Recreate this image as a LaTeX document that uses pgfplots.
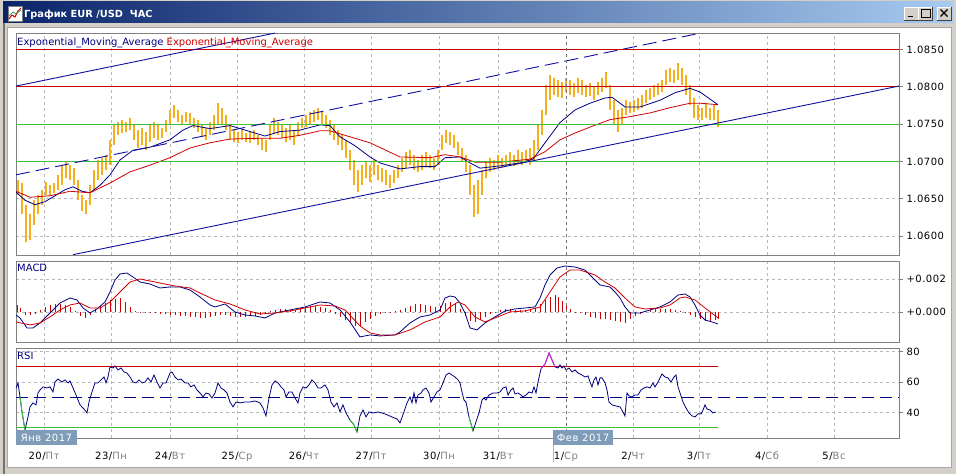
\documentclass[border=0pt]{standalone}
\usepackage{pgfplots}
\pgfplotsset{compat=1.18}
\usepackage{fontspec}
\setmainfont{DejaVu Sans}
\newfontfamily\tickfont[LetterSpace=5]{DejaVu Sans}
\definecolor{winbg}{HTML}{D4D0C8}
\definecolor{tbL}{HTML}{0A246A}
\definecolor{tbR}{HTML}{A6CAF0}
\definecolor{candle}{HTML}{F5AE1E}
\definecolor{navyline}{HTML}{000080}
\definecolor{emared}{HTML}{D00000}
\definecolor{hred}{HTML}{CC0000}
\definecolor{hgreen}{HTML}{3CC03C}
\definecolor{trendblue}{HTML}{1010A0}
\definecolor{gridgray}{HTML}{B8B8B8}
\definecolor{framegray}{HTML}{808080}
\definecolor{daygray}{HTML}{808080}
\definecolor{monthbox}{HTML}{7F9DB9}
\definecolor{rsimag}{HTML}{E020E0}
\pgfplotsset{panel/.style={
  scale only axis, width=883pt, xmin=16, xmax=899, anchor=south west,
  axis line style={draw=framegray, line width=0.8pt},
  xtick={44,111,170,237,304,371,439,498,566,633,699,767,834},
  xticklabels={},
  xmajorgrids, ymajorgrids,
  major grid style={draw=gridgray, dash pattern=on 3pt off 3pt, line width=0.6pt},
  xtick style={draw=none},
  ytick pos=right, yticklabel pos=right,
  ytick style={draw=framegray, line width=0.6pt},
  tick align=outside, major tick length=4pt,
  yticklabel style={font=\fontsize{10}{12}\tickfont, text=black, anchor=west},
  scaled y ticks=false,
}}
\begin{document}
\begin{tikzpicture}[x=1pt,y=1pt]
\useasboundingbox (0,0) rectangle (956,474);
\fill[winbg] (0,0) rectangle (956,474);
% title bar
\shade[left color=tbL, right color=tbR] (3,451) rectangle (953,472);
\fill[white] (8,453) rectangle (22,468);
\draw[framegray,line width=0.6pt] (8,453) rectangle (22,468);
\draw[hred,line width=1pt] (9,455) -- (12,459) -- (15,457) -- (18,463) -- (21,466);
\draw[hgreen!70!black,line width=0.7pt] (9,458) -- (13,462) -- (16,460) -- (21,464);
\node[anchor=base west, inner sep=0, text=white, font=\fontsize{9.8}{12}\selectfont\bfseries] at (24,456) {График EUR /USD\ \ ЧАС};
% buttons
\foreach \bx in {904,918,937}{
  \fill[winbg] (\bx,454) rectangle (\bx+14,467);
  \draw[white,line width=0.7pt] (\bx,454) -- (\bx,467) -- (\bx+14,467);
  \draw[black!75,line width=0.7pt] (\bx,454) -- (\bx+14,454) -- (\bx+14,467);
}
\draw[black,line width=1.6pt] (907.5,457.5) -- (913,457.5);
\draw[black,line width=0.7pt] (921,457) rectangle (930,465);
\draw[black,line width=1.6pt] (921,464.5) -- (930,464.5);
\draw[black,line width=1.3pt] (940.5,457.5) -- (947.5,464.5) (940.5,464.5) -- (947.5,457.5);
% chart area
\fill[black!55] (3,0) rectangle (5,451);
\fill[white] (7,7) rectangle (951,447);
\draw[black!35,line width=0.6pt] (7,7) rectangle (951,447);

% ================= MAIN PRICE PANEL =================
\begin{axis}[panel, at={(16pt,219pt)}, height=222pt, ymin=1.05746, ymax=1.08721,
  ytick={1.06,1.065,1.07,1.075,1.08,1.085},
  yticklabels={1.0600,1.0650,1.0700,1.0750,1.0800,1.0850}]
\addplot[draw=none, mark=none, forget plot,
  error bars/.cd, y dir=plus, y explicit, error mark=none,
  error bar style={draw=candle, line width=2.2pt}]
  table[x=x, y=l, y error plus expr=\thisrow{h}-\thisrow{l}] {
x l h
18 1.0655 1.0675
22 1.0629 1.0671
26 1.0592 1.0642
30 1.0595 1.0629
34 1.0615 1.0648
38 1.0629 1.0655
42 1.0642 1.0662
46 1.0655 1.0672
50 1.0655 1.0668
54 1.0658 1.0671
58 1.0662 1.0682
62 1.0668 1.0695
66 1.0678 1.0699
70 1.0675 1.0695
74 1.0668 1.0691
78 1.0648 1.0675
82 1.0633 1.0655
86 1.0629 1.0648
90 1.0642 1.0668
94 1.0662 1.0689
98 1.0675 1.0702
102 1.0682 1.0705
106 1.0689 1.0709
110 1.0695 1.0729
114 1.0722 1.0749
118 1.0735 1.0753
122 1.0738 1.0756
126 1.0740 1.0753
130 1.0742 1.0758
134 1.0729 1.0749
138 1.0718 1.0742
142 1.0722 1.0745
146 1.0715 1.0740
150 1.0726 1.0749
154 1.0731 1.0753
158 1.0729 1.0749
162 1.0731 1.0745
166 1.0740 1.0756
170 1.0749 1.0769
174 1.0758 1.0776
178 1.0753 1.0769
182 1.0749 1.0762
186 1.0753 1.0766
190 1.0749 1.0765
194 1.0745 1.0758
198 1.0740 1.0756
202 1.0733 1.0749
206 1.0729 1.0745
210 1.0735 1.0753
214 1.0742 1.0762
218 1.0749 1.0778
222 1.0749 1.0772
226 1.0742 1.0762
230 1.0729 1.0749
234 1.0726 1.0742
238 1.0725 1.0740
242 1.0729 1.0742
246 1.0726 1.0738
250 1.0725 1.0740
254 1.0729 1.0742
258 1.0722 1.0735
262 1.0715 1.0731
266 1.0713 1.0729
270 1.0729 1.0749
274 1.0738 1.0758
278 1.0735 1.0753
282 1.0731 1.0749
286 1.0726 1.0745
290 1.0729 1.0749
294 1.0722 1.0742
298 1.0735 1.0753
302 1.0745 1.0758
306 1.0746 1.0762
310 1.0749 1.0766
314 1.0753 1.0769
318 1.0756 1.0772
322 1.0749 1.0766
326 1.0745 1.0762
330 1.0735 1.0756
334 1.0729 1.0749
338 1.0722 1.0742
342 1.0715 1.0735
346 1.0705 1.0729
350 1.0689 1.0715
354 1.0668 1.0702
358 1.0659 1.0689
362 1.0668 1.0695
366 1.0678 1.0699
370 1.0672 1.0695
374 1.0682 1.0702
378 1.0675 1.0695
382 1.0672 1.0691
386 1.0668 1.0689
390 1.0664 1.0682
394 1.0671 1.0689
398 1.0678 1.0695
402 1.0686 1.0705
406 1.0691 1.0713
410 1.0695 1.0715
414 1.0689 1.0709
418 1.0686 1.0702
422 1.0689 1.0709
426 1.0694 1.0713
430 1.0691 1.0709
434 1.0689 1.0705
438 1.0695 1.0715
442 1.0715 1.0735
446 1.0725 1.0742
450 1.0722 1.0740
454 1.0718 1.0735
458 1.0709 1.0726
462 1.0699 1.0718
466 1.0686 1.0709
470 1.0655 1.0695
474 1.0625 1.0668
478 1.0629 1.0675
482 1.0655 1.0689
486 1.0678 1.0699
490 1.0686 1.0705
494 1.0689 1.0702
498 1.0691 1.0709
502 1.0691 1.0705
506 1.0694 1.0709
510 1.0695 1.0713
514 1.0694 1.0709
518 1.0698 1.0715
522 1.0695 1.0713
526 1.0699 1.0715
530 1.0695 1.0718
534 1.0702 1.0729
538 1.0715 1.0749
542 1.0735 1.0769
546 1.0762 1.0802
550 1.0782 1.0816
554 1.0789 1.0812
558 1.0786 1.0809
562 1.0785 1.0806
566 1.0793 1.0812
570 1.0789 1.0809
574 1.0786 1.0805
578 1.0792 1.0812
582 1.0789 1.0809
586 1.0786 1.0802
590 1.0788 1.0805
594 1.0782 1.0801
598 1.0789 1.0806
602 1.0793 1.0812
606 1.0798 1.0820
610 1.0769 1.0802
614 1.0749 1.0782
618 1.0740 1.0769
622 1.0749 1.0772
626 1.0762 1.0782
630 1.0765 1.0780
634 1.0766 1.0782
638 1.0769 1.0785
642 1.0772 1.0789
646 1.0778 1.0796
650 1.0782 1.0798
654 1.0786 1.0802
658 1.0789 1.0805
662 1.0793 1.0809
666 1.0802 1.0822
670 1.0806 1.0825
674 1.0805 1.0822
678 1.0809 1.0832
682 1.0802 1.0825
686 1.0789 1.0816
690 1.0776 1.0802
694 1.0758 1.0785
698 1.0756 1.0776
702 1.0756 1.0772
706 1.0758 1.0778
710 1.0756 1.0772
714 1.0756 1.0776
718 1.0746 1.0769
};
% EMA fast (blue)
\addplot[navyline, line width=0.8pt, mark=none] coordinates {
(16,1.0659)(25,1.0648)(35,1.0642)(45,1.0646)(55,1.0654)(65,1.0662)(73,1.0666)(82,1.0660)(90,1.0658)(100,1.0668)(110,1.0682)(120,1.0702)(133,1.0715)(150,1.0719)(170,1.0729)(183,1.0742)(193,1.0748)(210,1.0744)(230,1.0748)(245,1.0742)(265,1.0734)(280,1.0740)(300,1.0742)(320,1.0749)(330,1.0748)(340,1.0733)(355,1.0721)(370,1.0706)(380,1.0698)(400,1.0690)(420,1.0693)(435,1.0693)(445,1.0705)(460,1.0706)(470,1.0698)(480,1.0691)(500,1.0694)(520,1.0698)(533,1.0703)(545,1.0725)(560,1.0752)(575,1.0769)(590,1.0778)(605,1.0785)(612,1.0786)(625,1.0773)(640,1.0773)(660,1.0782)(675,1.0792)(690,1.0798)(700,1.0793)(718,1.0776)};
% EMA slow (red)
\addplot[emared, line width=0.8pt, mark=none] coordinates {
(16,1.0660)(30,1.0652)(50,1.0654)(70,1.0660)(90,1.0658)(110,1.0671)(130,1.0686)(150,1.0695)(170,1.0705)(190,1.0718)(210,1.0725)(230,1.0730)(260,1.0731)(280,1.0731)(300,1.0735)(320,1.0741)(330,1.0741)(350,1.0733)(370,1.0725)(400,1.0706)(430,1.0705)(445,1.0709)(460,1.0706)(475,1.0699)(500,1.0699)(530,1.0703)(545,1.0713)(560,1.0729)(575,1.0738)(590,1.0746)(610,1.0756)(630,1.0760)(650,1.0765)(670,1.0772)(690,1.0778)(700,1.0778)(718,1.0776)};
% horizontal levels
\addplot[hred, line width=0.9pt] coordinates {(16,1.0850)(899,1.0850)};
\addplot[hred, line width=0.9pt] coordinates {(16,1.0800)(899,1.0800)};
\addplot[hgreen, line width=0.9pt] coordinates {(16,1.0750)(899,1.0750)};
\addplot[hgreen, line width=0.9pt] coordinates {(16,1.0700)(899,1.0700)};
% trend channel
\addplot[trendblue, line width=0.9pt] coordinates {(16,1.0801)(275,1.0872)};
\addplot[trendblue, line width=0.9pt, dash pattern=on 14pt off 6pt] coordinates {(16,1.0682)(697,1.0871)};
\addplot[trendblue, line width=0.9pt] coordinates {(73,1.0575)(899,1.0801)};
\draw[black!55, dash pattern=on 3pt off 3pt, line width=0.7pt] (axis cs:566,1.05746) -- (axis cs:566,1.08721);
\end{axis}
\node[anchor=base west, inner sep=0, font=\fontsize{10}{12}\selectfont] at (17,428.5)
  {\textcolor{navyline}{Exponential\_Moving\_Average} \textcolor{emared}{Exponential\_Moving\_Average}};

% ================= MACD PANEL =================
\begin{axis}[panel, at={(16pt,132pt)}, height=81pt, ymin=-0.001784, ymax=0.003081,
  ytick={0,0.002}, yticklabels={+0.000,+0.002}]
\addplot[ycomb, emared, line width=0.8pt, mark=none] coordinates {
(17,0.00042)(20,0.00024)(25,-0.00018)(30,-0.00018)(35,-0.00012)(40,0.00012)(45,0.00030)(50,0.00042)(55,0.00048)(60,0.00048)(65,0.00042)(70,0.00030)(75,0.00006)(80,-0.00024)(85,-0.00036)(90,-0.00018)(95,0.00018)(100,0.00036)(105,0.00054)(110,0.00072)(115,0.00078)(120,0.00084)(125,0.00060)(130,0.00030)(135,0.00006)(140,0.00002)(145,0.00002)(150,-0.00006)(155,-0.00006)(160,-0.00012)(165,-0.00012)(170,-0.00018)(175,-0.00018)(180,-0.00024)(185,-0.00024)(190,-0.00030)(195,-0.00030)(200,-0.00036)(205,-0.00036)(210,-0.00030)(215,-0.00024)(220,-0.00018)(225,-0.00018)(230,-0.00024)(235,-0.00030)(240,-0.00030)(245,-0.00030)(250,-0.00024)(255,-0.00024)(260,-0.00018)(265,-0.00012)(270,0.00006)(275,0.00012)(280,0.00018)(285,0.00018)(290,0.00012)(295,0.00012)(300,0.00024)(305,0.00030)(310,0.00036)(315,0.00036)(320,0.00030)(325,0.00024)(330,0.00012)(335,-0.00012)(340,-0.00030)(345,-0.00048)(350,-0.00066)(355,-0.00084)(360,-0.00084)(365,-0.00060)(370,-0.00042)(375,-0.00024)(380,-0.00012)(385,0.00002)(390,0.00002)(395,0.00006)(400,0.00012)(405,0.00024)(410,0.00036)(415,0.00048)(420,0.00048)(425,0.00042)(430,0.00036)(435,0.00030)(440,0.00036)(445,0.00054)(450,0.00060)(455,0.00054)(460,0.00018)(465,-0.00024)(470,-0.00054)(475,-0.00060)(480,-0.00048)(485,-0.00030)(490,-0.00012)(495,0.00002)(500,0.00012)(505,0.00018)(510,0.00018)(515,0.00012)(520,0.00012)(525,0.00012)(530,0.00018)(535,0.00024)(540,0.00048)(545,0.00072)(550,0.00090)(555,0.00102)(558,0.00090)(562,0.00066)(566,0.00042)(570,0.00018)(575,0.00002)(580,-0.00006)(585,-0.00018)(590,-0.00030)(595,-0.00036)(600,-0.00042)(605,-0.00042)(610,-0.00048)(615,-0.00054)(620,-0.00060)(625,-0.00066)(630,-0.00042)(635,-0.00024)(640,-0.00012)(645,0.00006)(650,0.00012)(655,0.00018)(660,0.00018)(665,0.00018)(670,0.00018)(675,0.00012)(680,0.00006)(685,-0.00006)(690,-0.00018)(695,-0.00030)(700,-0.00042)(705,-0.00054)(710,-0.00054)(715,-0.00048)(718,-0.00042)};
\addplot[navyline, line width=0.8pt, mark=none] coordinates {
(16,-0.00016)(20,-0.00034)(27,-0.00094)(33,-0.00094)(40,-0.00064)(50,-0.00004)(60,0.00056)(70,0.00086)(77,0.00074)(83,0.00026)(90,-0.00004)(97,0.00020)(105,0.00062)(110,0.00122)(115,0.00194)(120,0.00230)(127,0.00236)(133,0.00212)(140,0.00182)(150,0.00170)(160,0.00146)(170,0.00152)(180,0.00152)(190,0.00134)(200,0.00092)(210,0.00044)(215,0.00032)(225,0.00050)(235,0.00002)(245,-0.00016)(255,-0.00022)(265,-0.00034)(275,-0.00004)(290,0.00014)(305,0.00032)(320,0.00062)(330,0.00056)(340,0.00014)(350,-0.00058)(360,-0.00148)(370,-0.00136)(380,-0.00142)(395,-0.00136)(400,-0.00118)(410,-0.00064)(420,-0.00028)(430,-0.00016)(440,0.00014)(445,0.00086)(450,0.00098)(455,0.00092)(460,0.00056)(465,-0.00004)(470,-0.00094)(477,-0.00106)(485,-0.00064)(495,-0.00028)(505,0.00008)(515,0.00020)(525,0.00026)(535,0.00032)(540,0.00086)(545,0.00164)(550,0.00224)(557,0.00266)(565,0.00278)(575,0.00272)(585,0.00254)(595,0.00194)(600,0.00164)(610,0.00152)(615,0.00122)(620,0.00086)(625,0.00032)(630,-0.00004)(640,-0.00004)(650,0.00014)(660,0.00032)(670,0.00062)(678,0.00104)(685,0.00110)(690,0.00092)(695,0.00044)(700,-0.00016)(705,-0.00046)(712,-0.00058)(718,-0.00070)};
\addplot[emared, line width=0.8pt, mark=none] coordinates {
(16,-0.00058)(30,-0.00076)(40,-0.00064)(50,-0.00028)(60,0.00014)(70,0.00044)(80,0.00056)(90,0.00026)(100,0.00026)(110,0.00062)(120,0.00122)(130,0.00182)(140,0.00200)(150,0.00188)(160,0.00176)(175,0.00158)(190,0.00146)(200,0.00116)(215,0.00074)(230,0.00050)(245,0.00014)(260,-0.00010)(275,-0.00004)(290,0.00008)(305,0.00026)(320,0.00044)(335,0.00038)(345,0.00014)(360,-0.00082)(370,-0.00124)(380,-0.00136)(395,-0.00136)(410,-0.00106)(425,-0.00058)(440,-0.00028)(450,0.00032)(458,0.00062)(465,0.00044)(475,-0.00028)(485,-0.00058)(495,-0.00034)(510,0.00002)(525,0.00008)(540,0.00032)(550,0.00122)(560,0.00212)(570,0.00254)(580,0.00254)(595,0.00224)(605,0.00182)(615,0.00146)(625,0.00086)(635,0.00032)(645,0.00020)(660,0.00026)(670,0.00044)(680,0.00086)(685,0.00092)(695,0.00074)(705,0.00026)(718,-0.00034)};
\draw[black!55, dash pattern=on 3pt off 3pt, line width=0.7pt] (axis cs:566,-0.001784) -- (axis cs:566,0.003081);
\end{axis}
\node[anchor=base west, inner sep=0, font=\fontsize{10}{12}\selectfont, text=navyline] at (17,202) {MACD};

% ================= RSI PANEL =================
\begin{axis}[panel, at={(16pt,36pt)}, height=90pt, ymin=23.4, ymax=82.4,
  ytick={40,60,80}, yticklabels={40,60,80},
  xticklabels={20/\textcolor{daygray}{Пт},23/\textcolor{daygray}{Пн},24/\textcolor{daygray}{Вт},25/\textcolor{daygray}{Ср},26/\textcolor{daygray}{Чт},27/\textcolor{daygray}{Пт},30/\textcolor{daygray}{Пн},31/\textcolor{daygray}{Вт},1/\textcolor{daygray}{Ср},2/\textcolor{daygray}{Чт},3/\textcolor{daygray}{Пт},4/\textcolor{daygray}{Сб},5/\textcolor{daygray}{Вс}},
  xticklabel style={font=\fontsize{10}{12}\tickfont, text=black, anchor=base, yshift=-17pt}]
\addplot[hred, line width=0.9pt] coordinates {(16,70)(718,70)};
\addplot[hgreen, line width=0.9pt] coordinates {(16,30)(718,30)};
\addplot[navyline, line width=0.9pt, dash pattern=on 12pt off 6pt] coordinates {(16,50)(899,50)};
\addplot[navyline, line width=0.8pt, mark=none] coordinates {
(16,56.2)(18,59.5)(20,50.3)(22,40.5)(25,28.7)(28,37.2)(30,43.8)(33,46.4)(36,45.1)(38,52.9)(40,54.9)(43,56.9)(47,56.2)(50,56.9)(53,53.6)(55,60.1)(58,62.1)(62,60.1)(65,61.5)(68,59.5)(70,60.8)(73,56.2)(76,51.6)(80,45.1)(84,42.4)(87,39.8)(89,47.0)(92,53.6)(95,59.5)(98,59.5)(101,61.5)(104,63.4)(106,59.5)(108,63.4)(110,70.0)(113,69.3)(115,70.6)(118,68.0)(121,69.3)(124,66.7)(127,66.0)(130,63.4)(133,60.1)(136,59.5)(139,61.5)(142,59.5)(145,60.1)(148,62.8)(151,60.1)(154,64.7)(157,60.1)(160,56.2)(163,59.5)(166,59.5)(170,66.0)(172,66.7)(175,63.4)(178,61.5)(181,62.1)(185,59.5)(188,59.5)(191,56.9)(194,58.2)(197,54.9)(200,52.9)(203,50.3)(206,52.9)(209,52.3)(212,49.6)(215,52.9)(218,59.5)(221,56.2)(224,54.9)(227,52.9)(230,47.0)(233,43.8)(236,47.0)(240,46.4)(245,47.0)(250,47.0)(255,47.7)(260,46.4)(263,43.1)(266,37.9)(269,49.6)(272,58.2)(275,60.8)(278,59.5)(281,56.9)(284,54.9)(286,50.3)(289,53.6)(292,53.6)(295,49.6)(298,46.4)(300,52.9)(303,56.9)(306,56.2)(309,58.2)(312,61.5)(315,59.5)(318,56.2)(321,56.2)(325,58.2)(328,54.9)(331,47.0)(334,43.8)(337,46.4)(340,40.5)(343,45.1)(346,39.8)(350,35.2)(354,31.9)(357,27.3)(360,37.9)(363,41.8)(366,37.2)(369,40.5)(373,39.8)(378,40.5)(385,39.2)(392,37.2)(397,35.9)(400,33.3)(404,40.5)(407,46.4)(410,50.3)(412,46.4)(414,52.9)(416,46.4)(418,51.6)(421,52.9)(423,54.9)(426,56.2)(429,52.9)(431,47.0)(434,50.3)(437,53.6)(440,54.9)(443,59.5)(446,64.7)(449,66.0)(452,64.7)(455,63.4)(458,61.5)(460,59.5)(462,53.6)(464,48.3)(466,47.0)(469,37.2)(473,28.0)(476,34.0)(479,39.8)(482,48.3)(484,49.6)(486,48.3)(489,51.6)(493,52.9)(497,52.9)(500,53.6)(503,56.2)(506,56.9)(508,51.6)(511,54.9)(513,56.2)(515,52.3)(518,52.9)(521,51.6)(523,50.3)(526,51.6)(529,53.6)(532,52.9)(534,56.9)(536,52.9)(538,60.1)(541,68.7)(545,71.9)(549,79.2)(552,74.6)(555,70.0)(558,69.3)(560,71.3)(562,69.3)(564,70.6)(566,68.0)(569,69.3)(572,66.7)(575,68.0)(578,66.0)(582,64.7)(585,63.4)(588,64.1)(590,60.1)(592,56.9)(594,61.5)(596,63.4)(598,58.2)(600,62.8)(602,62.8)(605,59.5)(607,54.9)(609,47.0)(612,45.1)(616,44.4)(620,43.8)(623,40.5)(625,37.9)(627,52.9)(629,51.0)(632,50.3)(635,51.6)(638,51.6)(641,54.9)(644,56.2)(647,56.9)(650,56.2)(653,59.5)(655,56.9)(658,60.1)(660,62.8)(662,65.4)(665,63.4)(668,62.8)(671,60.1)(674,63.4)(676,64.7)(678,56.9)(680,52.9)(683,47.0)(686,43.1)(689,39.8)(692,37.9)(695,37.2)(698,39.2)(701,39.2)(703,41.8)(705,45.1)(707,42.4)(710,41.8)(713,39.8)(716,40.5)};
\addplot[hgreen, line width=0.9pt, mark=none] coordinates {(20,50.3)(22,40.5)(25,28.7)};
\addplot[hgreen, line width=0.9pt, mark=none] coordinates {(350,35.2)(354,31.9)(357,27.3)};
\addplot[hgreen, line width=0.9pt, mark=none] coordinates {(469,37.2)(473,28.0)};
\addplot[rsimag, line width=0.9pt, mark=none] coordinates {(541,68.7)(545,71.9)(549,79.2)(552,74.6)(555,70.0)};
\draw[black!55, dash pattern=on 3pt off 3pt, line width=0.7pt] (axis cs:566,23.4) -- (axis cs:566,82.4);
\end{axis}
\node[anchor=base west, inner sep=0, font=\fontsize{10}{12}\selectfont, text=navyline] at (17,114.5) {RSI};
% month boxes
\fill[monthbox] (16,29) rectangle (77,44);
\node[anchor=base, inner sep=0, text=white, font=\fontsize{10}{12}\tickfont] at (46.5,32) {Янв 2017};
\fill[monthbox] (553,29) rectangle (613,44);
\node[anchor=base, inner sep=0, text=white, font=\fontsize{10}{12}\tickfont] at (583,32) {Фев 2017};
\draw[black!30, line width=0.7pt] (553,29) -- (553,12);
\end{tikzpicture}
\end{document}
